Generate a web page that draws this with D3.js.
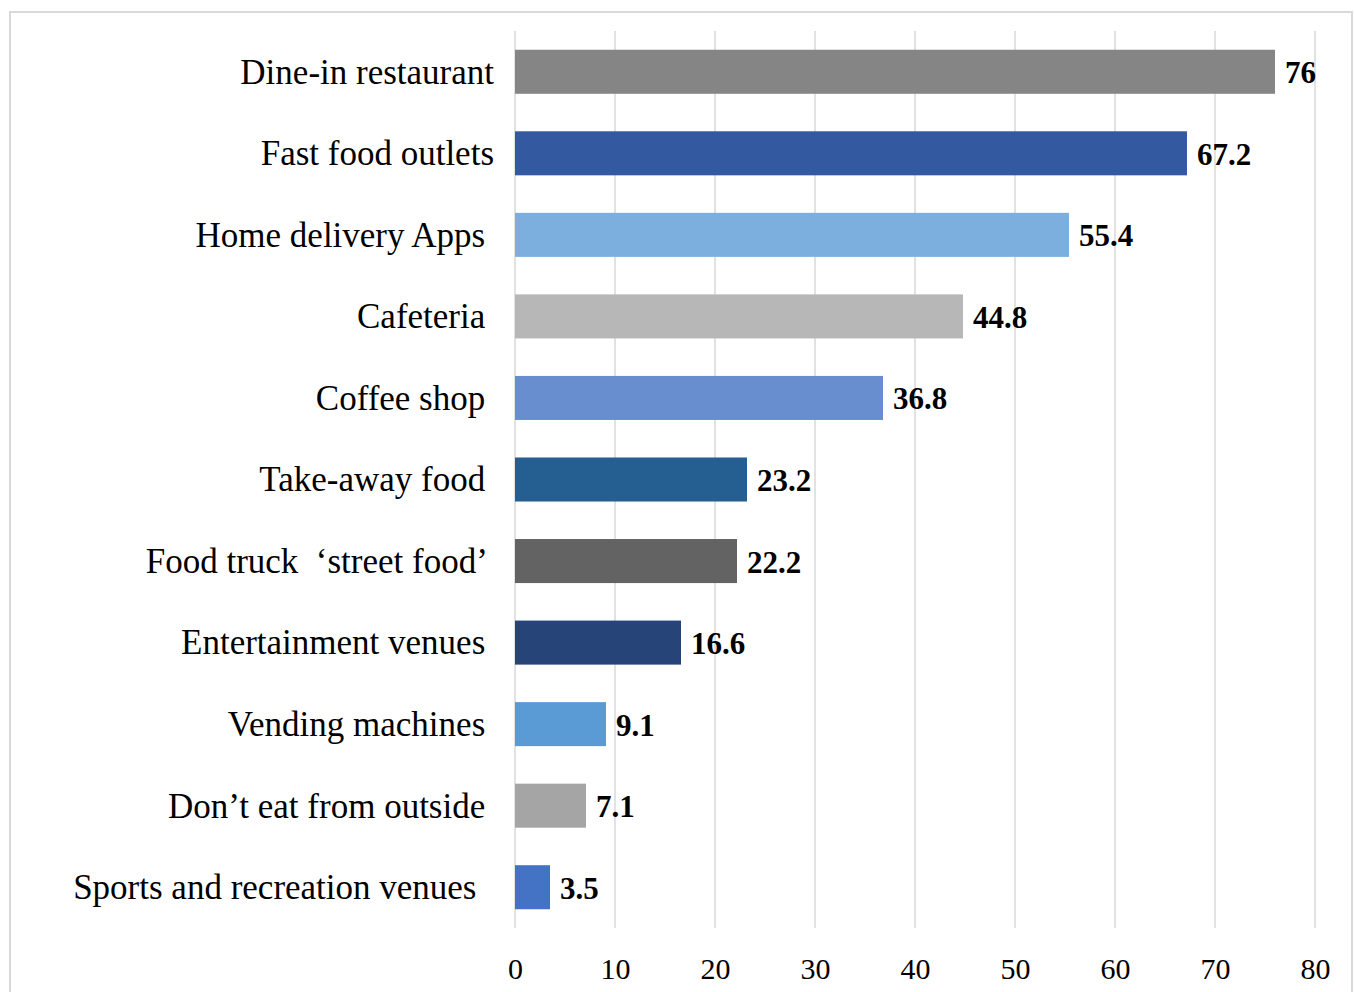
<!DOCTYPE html>
<html>
<head>
<meta charset="utf-8">
<script src="https://cdn.jsdelivr.net/npm/d3@7"></script>
<style>
  body { margin: 0; background: #fff; }
  svg text { font-family: "Liberation Serif", "Times New Roman", serif; white-space: pre; }
</style>
</head>
<body>
<div id="chart"></div>
<script>
var width = 1354;
var height = 992;

// data (trailing spaces kept to mimic label alignment)
var categories = [
  "Dine-in restaurant",
  "Fast food outlets",
  "Home delivery Apps ",
  "Cafeteria ",
  "Coffee shop ",
  "Take-away food ",
  "Food truck  \u2018street food\u2019 ",
  "Entertainment venues ",
  "Vending machines ",
  "Don\u2019t eat from outside ",
  "Sports and recreation venues  "
];
var values = [76, 67.2, 55.4, 44.8, 36.8, 23.2, 22.2, 16.6, 9.1, 7.1, 3.5];
var barColors = ["#858585", "#335aa1", "#7cafdd", "#b7b7b7", "#698ed0", "#255e91",
                 "#636363", "#264478", "#5b9bd5", "#a5a5a5", "#4472c4"];
var xTicks = [0, 10, 20, 30, 40, 50, 60, 70, 80];

var svg = d3.select("#chart")
    .append("svg")
    .attr("width", width)
    .attr("height", height);

// outer frame
svg.append("rect")
    .attr("x", 10).attr("y", 12)
    .attr("width", 1342).attr("height", 1000)
    .attr("fill", "none")
    .attr("stroke", "#d9d9d9")
    .attr("stroke-width", 2);

var x = d3.scaleLinear()
    .domain([0, 80])
    .range([515, 1315]);

var y = d3.scaleBand()
    .domain(categories)
    .range([31, 928])
    .paddingInner(0.46)
    .paddingOuter(0.23);

// gridlines
svg.append("g")
    .selectAll("line")
    .data(xTicks)
    .join("line")
    .attr("x1", d => x(d)).attr("x2", d => x(d))
    .attr("y1", 31).attr("y2", 928)
    .attr("stroke", "#d9d9d9")
    .attr("stroke-width", 1.5);

// x axis labels
var xAxis = svg.append("g")
    .attr("transform", "translate(0,928)")
    .call(d3.axisBottom(x).tickValues(xTicks).tickSize(0).tickPadding(30));
xAxis.select(".domain").remove();
xAxis.selectAll("text")
    .attr("font-size", 30)
    .attr("font-family", "Liberation Serif, Times New Roman, serif")
    .attr("fill", "#000");

// bars
svg.append("g")
    .selectAll("rect")
    .data(values)
    .join("rect")
    .attr("x", x(0))
    .attr("y", (d, i) => y(categories[i]))
    .attr("width", d => x(d) - x(0))
    .attr("height", y.bandwidth())
    .attr("fill", (d, i) => barColors[i]);

// category labels
svg.append("g")
    .selectAll("text")
    .data(categories)
    .join("text")
    .attr("x", 494)
    .attr("y", d => y(d) + y.bandwidth() / 2)
    .attr("dy", "0.34em")
    .attr("text-anchor", "end")
    .attr("font-size", 35)
    .attr("fill", "#000")
    .text(d => d);

// value labels
svg.append("g")
    .selectAll("text")
    .data(values)
    .join("text")
    .attr("x", d => x(d) + 10)
    .attr("y", (d, i) => y(categories[i]) + y.bandwidth() / 2)
    .attr("dy", "0.37em")
    .attr("font-size", 31)
    .attr("font-weight", "bold")
    .attr("fill", "#000")
    .text(d => d);
</script>
</body>
</html>
